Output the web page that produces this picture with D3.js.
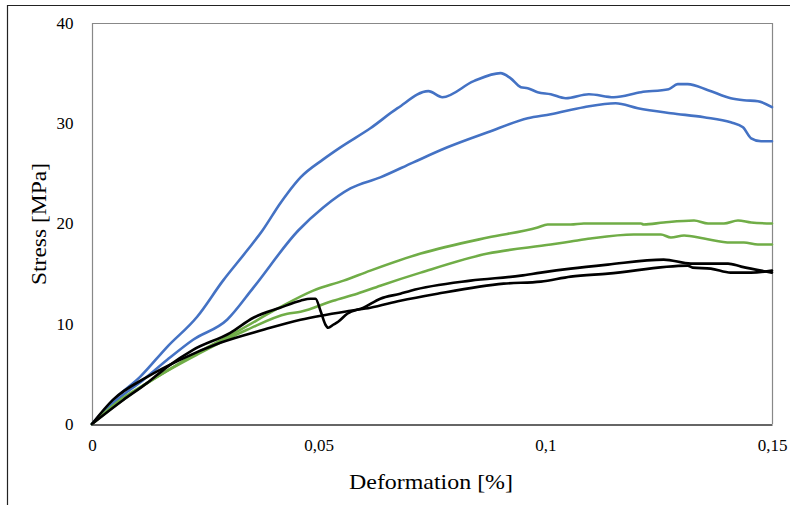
<!DOCTYPE html>
<html>
<head>
<meta charset="utf-8">
<script src="https://cdn.jsdelivr.net/npm/d3@7"></script>
<style>
  html, body { margin: 0; padding: 0; background: #fff; }
  svg { display: block; }
  text { font-family: "Liberation Serif", "Times New Roman", serif; fill: #000; }
</style>
</head>
<body>
<svg id="chart" width="790" height="505"></svg>
<script>
// ---- data (strain in %, stress in MPa) ----
const xTicks = [0, 0.05, 0.1, 0.15];
const yTicks = [0, 10, 20, 30, 40];
const xLabel = "Deformation [%]";
const yLabel = "Stress [MPa]";

const blue1X = [0, 0.0055, 0.0106, 0.0166, 0.0232, 0.0289, 0.0342, 0.0376, 0.0415, 0.0431, 0.0460, 0.0510, 0.0548, 0.0614, 0.0674, 0.0742, 0.0773, 0.0842, 0.0901, 0.0923, 0.0946, 0.0961, 0.0983, 0.1012, 0.1045, 0.1096, 0.1151, 0.1211, 0.1272, 0.1292, 0.1314, 0.1359, 0.1409, 0.1438, 0.1469, 0.15];
const blue1Y = [0, 2.7, 4.7, 7.7, 10.7, 14.3, 17.3, 19.3, 22.0, 23.0, 24.6, 26.4, 27.6, 29.5, 31.5, 33.2, 32.6, 34.2, 35.0, 34.5, 33.6, 33.5, 33.1, 32.9, 32.5, 32.9, 32.6, 33.1, 33.4, 33.9, 33.9, 33.3, 32.5, 32.3, 32.2, 31.6];

const blue2X = [0, 0.0055, 0.0113, 0.0166, 0.0223, 0.0298, 0.0356, 0.0455, 0.0510, 0.0570, 0.0636, 0.0709, 0.0784, 0.0873, 0.0961, 0.1012, 0.1085, 0.1155, 0.1204, 0.1277, 0.1350, 0.1409, 0.1436, 0.1454, 0.1476, 0.15];
const blue2Y = [0, 2.4, 4.4, 6.4, 8.4, 10.4, 13.6, 19.3, 21.6, 23.5, 24.6, 26.1, 27.6, 29.1, 30.5, 30.9, 31.6, 32.0, 31.5, 31.0, 30.6, 30.1, 29.6, 28.5, 28.2, 28.2];

const green1X = [0, 0.0062, 0.0122, 0.0232, 0.0327, 0.0409, 0.0488, 0.0555, 0.0614, 0.0725, 0.0873, 0.0983, 0.1005, 0.1056, 0.1085, 0.1211, 0.1217, 0.1261, 0.1328, 0.1359, 0.1394, 0.1425, 0.1454, 0.15];
const green1Y = [0, 2.4, 4.1, 7.1, 9.4, 11.5, 13.3, 14.3, 15.3, 17.0, 18.6, 19.6, 19.9, 19.9, 20.0, 20.0, 19.9, 20.1, 20.3, 20.0, 20.0, 20.3, 20.1, 20.0];

const green2X = [0, 0.0062, 0.0122, 0.0239, 0.0342, 0.0431, 0.0460, 0.0532, 0.0585, 0.0636, 0.0725, 0.0873, 0.1012, 0.1056, 0.1100, 0.1195, 0.1255, 0.1277, 0.1306, 0.1350, 0.1409, 0.1438, 0.1469, 0.15];
const green2Y = [0, 2.2, 4.1, 7.1, 9.4, 11.0, 11.2, 12.3, 13.0, 13.8, 15.1, 17.0, 17.9, 18.2, 18.5, 18.9, 18.9, 18.6, 18.8, 18.5, 18.1, 18.1, 17.9, 17.9];

const black1X = [0, 0.0069, 0.0122, 0.0166, 0.0223, 0.0305, 0.0356, 0.0415, 0.0460, 0.0482, 0.0493, 0.0504, 0.0515, 0.0521, 0.0532, 0.0543, 0.0563, 0.0599, 0.0636, 0.0680, 0.0703, 0.0835, 0.0946, 0.0990, 0.1056, 0.1138, 0.1261, 0.1321, 0.1403, 0.1432, 0.15];
const black1Y = [0, 2.4, 4.1, 5.7, 7.4, 9.1, 10.6, 11.6, 12.3, 12.5, 12.5, 11.3, 9.9, 9.6, 9.9, 10.2, 11.0, 11.6, 12.5, 13.0, 13.3, 14.3, 14.8, 15.1, 15.5, 15.9, 16.4, 16.0, 16.0, 15.7, 15.1];

const black2X = [0, 0.0046, 0.0122, 0.0194, 0.0283, 0.0378, 0.0460, 0.0570, 0.0614, 0.0680, 0.0762, 0.0908, 0.0990, 0.1056, 0.1138, 0.1314, 0.1325, 0.1365, 0.1409, 0.1454, 0.15];
const black2Y = [0, 2.4, 4.7, 6.4, 8.1, 9.4, 10.4, 11.3, 11.6, 12.3, 13.0, 14.0, 14.2, 14.7, 15.0, 15.8, 15.6, 15.5, 15.1, 15.1, 15.3];

const seriesList = [
  { x: blue1X, y: blue1Y, color: "#4472C4" },
  { x: blue2X, y: blue2Y, color: "#4472C4" },
  { x: green1X, y: green1Y, color: "#70AD47" },
  { x: green2X, y: green2Y, color: "#70AD47" },
  { x: black1X, y: black1Y, color: "#000000" },
  { x: black2X, y: black2Y, color: "#000000" }
];

// ---- drawing ----
const svg = d3.select("#chart");
const L = 92, R = 772, T = 23, B = 424;

const x = d3.scaleLinear().domain([0, 0.15]).range([L, R]);
const y = d3.scaleLinear().domain([0, 40]).range([B, T]);
const fmt = d => String(+d.toFixed(3)).replace(".", ",");

// outer frame (only left and top visible)
svg.append("path").attr("d", "M7.5,505 V5.5 H790").attr("fill", "none").attr("stroke", "#222").attr("stroke-width", 1.2);

// plot frame
svg.append("path")
  .attr("d", `M${L + 0.5},${B} V${T + 0.5} H${R + 0.5} V${B}`)
  .attr("fill", "none").attr("stroke", "#888").attr("stroke-width", 1.2);

// series
const line = d3.line().x(d => x(d[0])).y(d => y(d[1])).curve(d3.curveMonotoneX);
seriesList.forEach(s => {
  const pts = s.x.map((v, i) => [v, s.y[i]]);
  svg.append("path").datum(pts).attr("d", line)
    .attr("fill", "none").attr("stroke", s.color)
    .attr("stroke-width", 2.6).attr("stroke-linejoin", "round").attr("stroke-linecap", "round");
});

// x axis
const xAxis = svg.append("g").attr("transform", `translate(0,${B + 0.5})`)
  .call(d3.axisBottom(x).tickValues(xTicks).tickFormat(fmt).tickSize(0).tickPadding(14));
xAxis.select(".domain").attr("stroke", "#333").attr("stroke-width", 1.5);
xAxis.selectAll("text").attr("font-size", 17).attr("font-family", "Liberation Serif");

// y axis
const yAxis = svg.append("g").attr("transform", `translate(${L + 0.5},0)`)
  .call(d3.axisLeft(y).tickValues(yTicks).tickFormat(fmt).tickSize(0).tickPadding(19));
yAxis.select(".domain").remove();
yAxis.selectAll("text").attr("font-size", 17).attr("font-family", "Liberation Serif");

// titles
svg.append("text").attr("x", 431).attr("y", 489).attr("text-anchor", "middle")
  .attr("font-size", 21).attr("textLength", 164).attr("lengthAdjust", "spacingAndGlyphs").text(xLabel);
svg.append("text").attr("transform", "translate(46,224) rotate(-90)").attr("text-anchor", "middle")
  .attr("font-size", 21).attr("textLength", 122).attr("lengthAdjust", "spacingAndGlyphs").text(yLabel);
</script>
</body>
</html>
